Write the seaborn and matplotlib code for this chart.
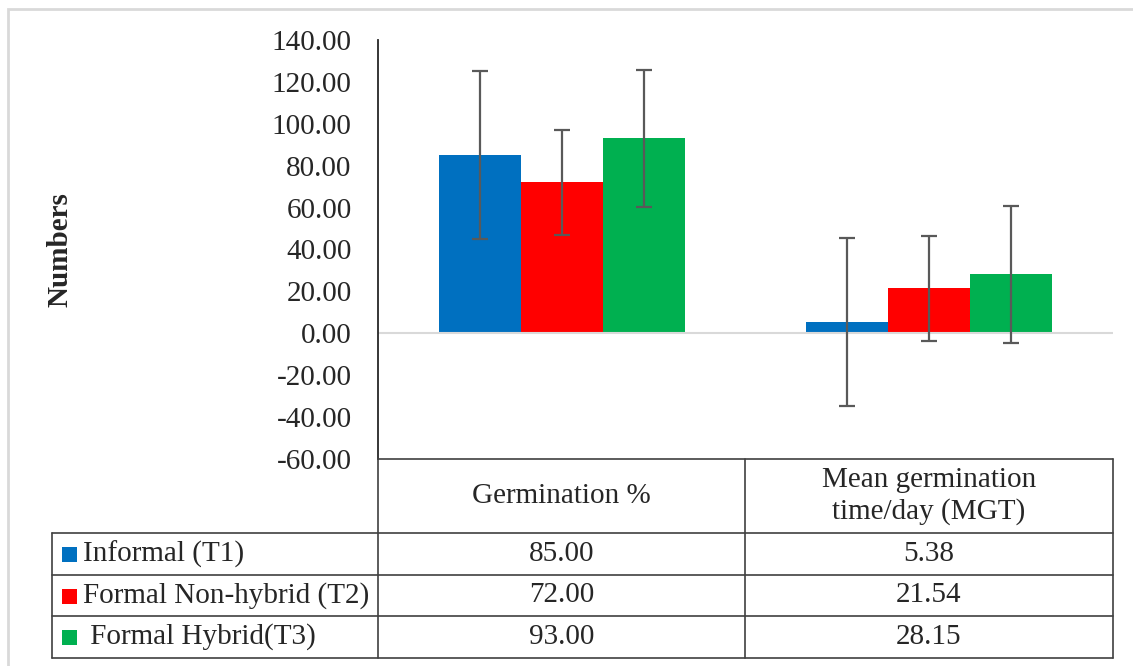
import matplotlib
matplotlib.use("Agg")
import matplotlib.pyplot as plt
import seaborn as sns
import pandas as pd
import numpy as np
from matplotlib.lines import Line2D
from matplotlib.patches import Rectangle

categories = ["Germination %", "Mean germination\ntime/day (MGT)"]
series = ["Informal (T1)", "Formal Non-hybrid (T2)", " Formal Hybrid(T3)"]
informal = [85.00, 5.38]
formal_nonhybrid = [72.00, 21.54]
formal_hybrid = [93.00, 28.15]
errors = [40.0, 25.0, 32.6]
colors = ["#0070C0", "#FF0000", "#00B050"]
yticks = [-60, -40, -20, 0, 20, 40, 60, 80, 100, 120, 140]

values = [informal, formal_nonhybrid, formal_hybrid]
rows = []
for s, vals in zip(series, values):
    for c, v in zip(categories, vals):
        rows.append({"category": c, "series": s, "value": v})
df = pd.DataFrame(rows)

sns.set_theme(style="white")
plt.rcParams["font.family"] = ["Liberation Serif", "DejaVu Serif"]

FS = 21
W, H = 1133, 666
fig = plt.figure(figsize=(W / 100, H / 100), dpi=100)

def fx(px):
    return px / W

def fy(py):
    return 1 - py / H

ax_left, ax_right, ax_top, ax_bottom = 378, 1113, 40, 459
ax = fig.add_axes([fx(ax_left), fy(ax_bottom), fx(ax_right - ax_left), (ax_bottom - ax_top) / H])

sns.barplot(data=df, x="category", y="value", hue="series", palette=colors,
            order=categories, hue_order=series, width=0.67, dodge=True,
            errorbar=None, saturation=1, linewidth=0, legend=False, ax=ax)

# error bars at bar centres
for i, s in enumerate(series):
    cont = ax.containers[i]
    xs = [p.get_x() + p.get_width() / 2 for p in cont]
    ax.errorbar(xs, values[i], yerr=errors[i], fmt="none", ecolor="#595959",
                elinewidth=1.6, capsize=6, capthick=1.6, zorder=5)

ax.axhline(0, color="#D9D9D9", lw=1.5, zorder=1)
ax.set_ylim(-60, 140)
ax.set_xlim(-0.5, 1.5)
ax.set_yticks(yticks)
ax.set_yticklabels([f"{t:.2f}" for t in yticks], fontsize=FS)
ax.tick_params(axis="y", length=0, pad=19)
ax.set_xticks([])
ax.set_xlabel("")
ax.set_ylabel("")
for side in ["top", "right", "bottom"]:
    ax.spines[side].set_visible(False)
ax.spines["left"].set_color("#262626")
ax.spines["left"].set_linewidth(1.3)

fig.text(fx(60), fy(250), "Numbers", rotation=90, ha="center", va="center",
         fontsize=FS, fontweight="bold")

# outer light border
fig.add_artist(Rectangle((fx(8), fy(700)), fx(1200), (700 - 9) / H,
                         transform=fig.transFigure, fill=False,
                         edgecolor="#D9D9D9", lw=2))

# data table
lc = "#404040"
def hline(x0, x1, y):
    fig.add_artist(Line2D([fx(x0), fx(x1)], [fy(y), fy(y)], color=lc, lw=1.2,
                          transform=fig.transFigure))
def vline(x, y0, y1):
    fig.add_artist(Line2D([fx(x), fx(x)], [fy(y0), fy(y1)], color=lc, lw=1.2,
                          transform=fig.transFigure))

row_y = [459, 533, 575, 616, 658]
col_x = [52, 378, 745, 1113]
hline(378, 1113, row_y[0])
for y in row_y[1:]:
    hline(52, 1113, y)
vline(52, row_y[1], row_y[4])
vline(378, row_y[0], row_y[4])
vline(745, row_y[0], row_y[4])
vline(1113, row_y[0], row_y[4])

for j, c in enumerate(categories):
    cx = (col_x[j + 1] + col_x[j + 2]) / 2
    fig.text(fx(cx), fy((row_y[0] + row_y[1]) / 2), c, ha="center", va="center",
             fontsize=FS, linespacing=1.25)

for i, s in enumerate(series):
    cy = (row_y[i + 1] + row_y[i + 2]) / 2
    fig.add_artist(Rectangle((fx(62), fy(cy + 8)), fx(15), 15 / H,
                             transform=fig.transFigure, facecolor=colors[i],
                             edgecolor="none"))
    fig.text(fx(83), fy(cy), s, ha="left", va="center", fontsize=FS)
    for j in range(len(categories)):
        cx = (col_x[j + 1] + col_x[j + 2]) / 2
        fig.text(fx(cx), fy(cy), f"{values[i][j]:.2f}", ha="center", va="center",
                 fontsize=FS)

fig.savefig("out.png", dpi=100, facecolor="white")
